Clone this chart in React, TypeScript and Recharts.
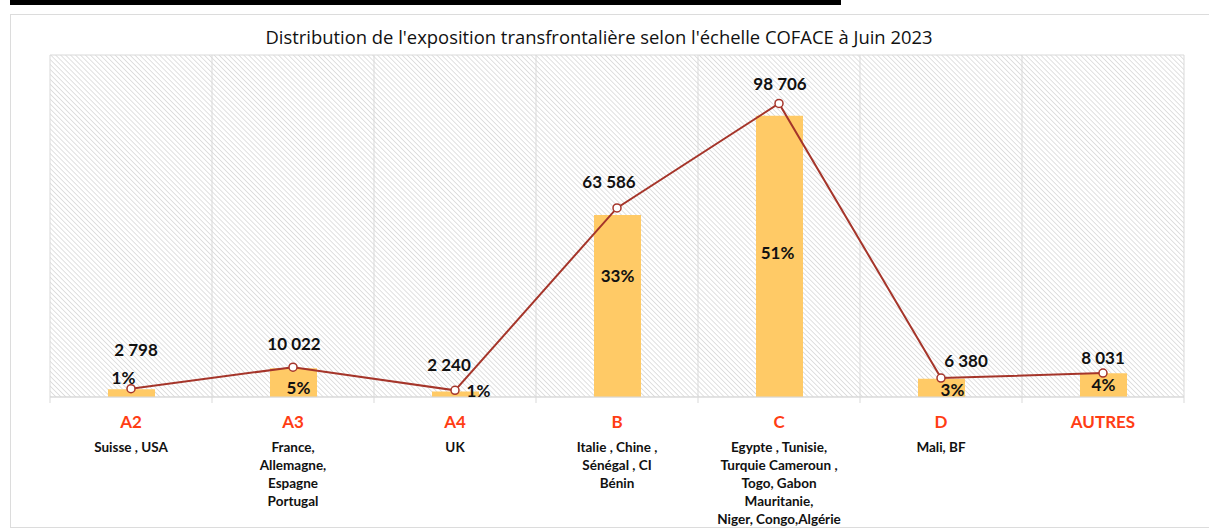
import { ComposedChart, Bar, Line, XAxis, YAxis, CartesianGrid, LabelList } from "recharts";

const categories = ["A2", "A3", "A4", "B", "C", "D", "AUTRES"];
const countries = [
  ["Suisse , USA"],
  ["France,", "Allemagne,", "Espagne", "Portugal"],
  ["UK"],
  ["Italie , Chine ,", "Sénégal , CI", "Bénin"],
  ["Egypte , Tunisie,", "Turquie Cameroun ,", "Togo, Gabon", "Mauritanie,", "Niger, Congo,Algérie"],
  ["Mali, BF"],
  [],
];
// exposition (montant) and share in %
const montants = [2798, 10022, 2240, 63586, 98706, 6380, 8031];
const parts = [1.4, 5.2, 1.0, 33, 51, 3.3, 4.3];

// manual nudges of the data labels, like in the original
const lineLabelNudge = [[5, -39], [1, -23], [-6, -25], [-8, -26], [1, -19], [25, -17], [0, -15]];
const barLabelNudge = [[-8, -11], [5, 20], [23, 0], [0, 61], [-2, 137], [11, 11], [0, 12]];

const data = categories.map((c, i) => ({ cat: c, montant: montants[i], part: parts[i] }));

const FONT = "Lato, 'Open Sans', sans-serif";
const LINE_COLOR = "#A5352A";
const GRID = "#d9d9d9";

const fmt = (v: number) => String(v).replace(/\B(?=(\d{3})+(?!\d))/g, " ");

function CatTick(props: any) {
  const { x, y, payload, index } = props;
  const half = payload && payload.offset ? payload.offset : 81;
  const lines = countries[index] || [];
  return (
    <g transform={`translate(${x},${y})`}>
      <line x1={-half} x2={-half} y1={0} y2={6} stroke={GRID} />
      {index === categories.length - 1 && <line x1={half} x2={half} y1={0} y2={6} stroke={GRID} />}
      <text x={0} y={31} textAnchor="middle" fill="#FF3D14" fontSize={17} fontWeight={700} fontFamily={FONT}>
        {payload.value}
      </text>
      {lines.map((l, i) => (
        <text key={i} x={0} y={55 + i * 18} textAnchor="middle" fill="#111" fontSize={13.5} fontWeight={700} fontFamily={FONT}>
          {l}
        </text>
      ))}
    </g>
  );
}

function LineLabel(props: any) {
  const { x, y, value, index } = props;
  const [dx, dy] = lineLabelNudge[index] || [0, -15];
  return (
    <text x={x + dx} y={y + dy} dy={6} textAnchor="middle" fill="#111" fontSize={17} fontWeight={700} fontFamily={FONT}>
      {fmt(value)}
    </text>
  );
}

function BarLabel(props: any) {
  const { x, y, width, value, index } = props;
  const [dx, dy] = barLabelNudge[index] || [0, 0];
  return (
    <text x={x + width / 2 + dx} y={y + dy} dy={6} textAnchor="middle" fill="#111" fontSize={17} fontWeight={700} fontFamily={FONT}>
      {`${Math.round(value)}%`}
    </text>
  );
}

export default function App() {
  return (
    <div style={{ position: "absolute", left: 0, top: 0, width: 1209, height: 530, overflow: "hidden", background: "#fff" }}>
      <div style={{ position: "absolute", left: 10, top: 0, width: 831, height: 5, background: "#000" }} />
      <div style={{ position: "absolute", left: 10, top: 14, width: 1210, height: 514, border: "1.5px solid #dcdcdc", boxSizing: "border-box" }} />
      <div
        style={{
          position: "absolute",
          left: 0,
          width: 1198,
          top: 26,
          textAlign: "center",
          fontFamily: "'Open Sans', Lato, sans-serif",
          fontSize: 18.4,
          color: "#111",
          lineHeight: "22px",
        }}
      >
        Distribution de l'exposition transfrontalière selon l'échelle COFACE à Juin 2023
      </div>
      <div style={{ position: "absolute", left: 0, top: 0 }}>
        <ComposedChart width={1209} height={530} data={data} margin={{ top: 55, right: 25, left: 50, bottom: 0 }}>
          <defs>
            <pattern id="hatch" width="3.5" height="3.5" patternUnits="userSpaceOnUse" patternTransform="rotate(-45)">
              <rect width="3.5" height="3.5" fill="#ffffff" />
              <line x1="0" y1="0" x2="0" y2="3.5" stroke="#cccccc" strokeWidth="1.2" />
            </pattern>
          </defs>
          <CartesianGrid
            xAxisId="cat"
            yAxisId="grid"
            stroke={GRID}
            fill="url(#hatch)"
            fillOpacity={1}
            verticalCoordinatesGenerator={({ offset }: any) =>
              categories.map((_, i) => offset.left + (i * offset.width) / categories.length).concat(offset.left + offset.width)
            }
          />
          <XAxis
            xAxisId="cat"
            dataKey="cat"
            height={133}
            interval={0}
            tickSize={0}
            tickMargin={0}
            tickLine={false}
            axisLine={{ stroke: GRID }}
            tick={<CatTick />}
          />
          <YAxis
            yAxisId="grid"
            domain={[0, 6]}
            ticks={[0, 1, 2, 3, 4, 5, 6]}
            width={0}
            axisLine={false}
            tickSize={4}
            tickLine={{ stroke: GRID }}
            tickFormatter={() => ""}
          />
          <YAxis
            yAxisId="gridR"
            orientation="right"
            domain={[0, 6]}
            ticks={[0, 1, 2, 3, 4, 5, 6]}
            width={0}
            axisLine={false}
            tickSize={4}
            tickLine={{ stroke: GRID }}
            tickFormatter={() => ""}
          />
          <YAxis yAxisId="pct" hide domain={[0, 62]} />
          <YAxis yAxisId="val" hide domain={[0, 115000]} />
          <Bar xAxisId="cat" yAxisId="pct" dataKey="part" fill="#FFCA66" barSize={47} isAnimationActive={false}>
            <LabelList dataKey="part" content={<BarLabel />} />
          </Bar>
          <Line
            xAxisId="cat"
            yAxisId="val"
            dataKey="montant"
            stroke={LINE_COLOR}
            strokeWidth={2}
            dot={{ r: 4, fill: "#fff", stroke: LINE_COLOR, strokeWidth: 1.5 }}
            isAnimationActive={false}
          >
            <LabelList dataKey="montant" content={<LineLabel />} />
          </Line>
        </ComposedChart>
      </div>
    </div>
  );
}
